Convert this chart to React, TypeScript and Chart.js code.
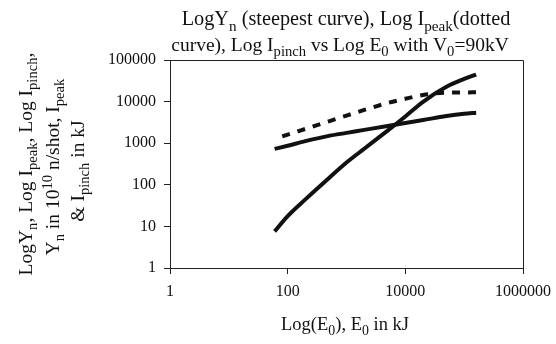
import React, { useEffect, useRef } from "react";
import { Chart, registerables } from "chart.js";

Chart.register(...registerables);

const energyKJ = [60, 100, 200, 500, 1000, 2000, 5000, 10000, 20000, 50000, 100000, 160000];
const neutronYield = [7.6, 17.7, 44.6, 144, 343, 735, 2010, 4400, 9900, 22700, 35000, 44700];
const peakCurrent = [1270, 1610, 2210, 3360, 4600, 6300, 9240, 11700, 14400, 16400, 16600, 16700];
const pinchCurrent = [730, 870, 1120, 1500, 1770, 2090, 2600, 3050, 3600, 4490, 5100, 5400];

const xTickValues = [1, 100, 10000, 1000000];
const xTickLabels = ["1", "100", "10000", "1000000"];
const yTickValues = [1, 10, 100, 1000, 10000, 100000];
const yTickLabels = ["1", "10", "100", "1000", "10000", "100000"];

type Seg = [string, ("n" | "sub" | "sup")?];

const FONT = "'Liberation Serif', 'Times New Roman', serif";
const FS = 16;
const SUB = 0.75;

function segWidth(ctx: CanvasRenderingContext2D, segs: Seg[], fs: number) {
  let w = 0;
  for (const [t, m] of segs) {
    const s = m && m !== "n" ? fs * SUB : fs;
    ctx.font = `${s}px ${FONT}`;
    w += ctx.measureText(t).width;
  }
  return w;
}

function drawRich(ctx: CanvasRenderingContext2D, segs: Seg[], cx: number, baseline: number, fs: number) {
  const total = segWidth(ctx, segs, fs);
  let x = cx - total / 2;
  ctx.textAlign = "left";
  ctx.textBaseline = "alphabetic";
  for (const [t, m] of segs) {
    const isSmall = m && m !== "n";
    const s = isSmall ? fs * SUB : fs;
    ctx.font = `${s}px ${FONT}`;
    let dy = 0;
    if (m === "sub") dy = fs * 0.28;
    if (m === "sup") dy = -fs * 0.38;
    ctx.fillText(t, x, baseline + dy);
    x += ctx.measureText(t).width;
  }
}

const titleLines: Seg[][] = [
  [["LogY"], ["n", "sub"], [" (steepest curve), Log I"], ["peak", "sub"], ["(dotted"]],
  [["curve), Log I"], ["pinch", "sub"], [" vs Log E"], ["0", "sub"], [" with V"], ["0", "sub"], ["=90kV"]],
];
const yTitleLines: Seg[][] = [
  [["LogY"], ["n", "sub"], [", Log I"], ["peak", "sub"], [", Log I"], ["pinch", "sub"], [","]],
  [["Y"], ["n", "sub"], [" in 10"], ["10", "sup"], [" n/shot, I"], ["peak", "sub"]],
  [["& I"], ["pinch", "sub"], [" in kJ"]],
];
const xTitle: Seg[] = [["Log(E"], ["0", "sub"], ["), E"], ["0", "sub"], [" in kJ"]];

const textPlugin = {
  id: "richText",
  afterDraw(chart: any) {
    const ctx: CanvasRenderingContext2D = chart.ctx;
    const a = chart.chartArea;
    ctx.save();
    ctx.strokeStyle = "#222";
    ctx.lineWidth = 1;
    ctx.beginPath();
    ctx.moveTo(a.left, a.top + 0.5);
    ctx.lineTo(a.right + 0.5, a.top + 0.5);
    ctx.lineTo(a.right + 0.5, a.bottom);
    ctx.stroke();
    ctx.fillStyle = "#111";
    drawRich(ctx, titleLines[0], 346, 25, 20.3);
    drawRich(ctx, titleLines[1], 340, 51, 19.5);
    drawRich(ctx, xTitle, 345, 330, 18.5);
    const centers = [164, 167, 171];
    const bases = [32, 59, 84];
    yTitleLines.forEach((segs, i) => {
      ctx.save();
      ctx.translate(bases[i], centers[i]);
      ctx.rotate(-Math.PI / 2);
      drawRich(ctx, segs, 0, 0, 19.5);
      ctx.restore();
    });
    ctx.restore();
  },
};

export default function App() {
  const ref = useRef<HTMLCanvasElement>(null);
  useEffect(() => {
    document.body.style.margin = "0";
    const line = (data: any, dash: number[]) => ({
      data,
      borderColor: "#111",
      borderWidth: 4,
      borderDash: dash,
      borderDashOffset: dash.length ? 8 : 0,
      pointRadius: 0,
      cubicInterpolationMode: "monotone" as const,
      fill: false,
    });
    const chart = new Chart(ref.current!, {
      type: "line",
      data: {
        labels: energyKJ,
        datasets: [
          line(energyKJ.map((x, i) => ({ x, y: neutronYield[i] })), []),
          line(energyKJ.map((x, i) => ({ x, y: peakCurrent[i] })), [8, 8]),
          line(energyKJ.map((x, i) => ({ x, y: pinchCurrent[i] })), []),
        ],
      },
      options: {
        animation: false,
        responsive: false,
        devicePixelRatio: 1,
        layout: { padding: { top: 60, right: 33, left: 0, bottom: 0 } },
        plugins: { legend: { display: false }, tooltip: { enabled: false }, title: { display: false } },
        scales: {
          x: {
            type: "logarithmic",
            min: 1,
            max: 1000000,
            afterBuildTicks: (s: any) => {
              s.ticks = xTickValues.map((v) => ({ value: v }));
            },
            afterFit: (s: any) => {
              s.height = 76;
              s.paddingLeft = 0;
              s.paddingRight = 0;
            },
            ticks: {
              autoSkip: false,
              maxRotation: 0,
              padding: 8,
              color: "#111",
              font: { family: FONT, size: FS },
              callback: (v: any) => {
                const i = xTickValues.indexOf(Number(v));
                return i >= 0 ? xTickLabels[i] : "";
              },
            },
            grid: { display: true, drawOnChartArea: false, drawTicks: true, tickLength: 6, color: "#222" },
            border: { display: true, color: "#222", width: 1 },
          },
          y: {
            type: "logarithmic",
            min: 1,
            max: 100000,
            afterBuildTicks: (s: any) => {
              s.ticks = yTickValues.map((v) => ({ value: v }));
            },
            afterFit: (s: any) => {
              s.width = 170;
              s.paddingTop = 0;
              s.paddingBottom = 0;
            },
            ticks: {
              autoSkip: false,
              padding: 8,
              color: "#111",
              font: { family: FONT, size: FS },
              callback: (v: any) => {
                const i = yTickValues.indexOf(Number(v));
                return i >= 0 ? yTickLabels[i] : "";
              },
            },
            grid: { display: true, drawOnChartArea: false, drawTicks: true, tickLength: 6, color: "#222" },
            border: { display: true, color: "#222", width: 1 },
          },
        },
      },
      plugins: [textPlugin],
    });
    return () => chart.destroy();
  }, []);
  return <canvas ref={ref} width={556} height={344} style={{ display: "block" }} />;
}
